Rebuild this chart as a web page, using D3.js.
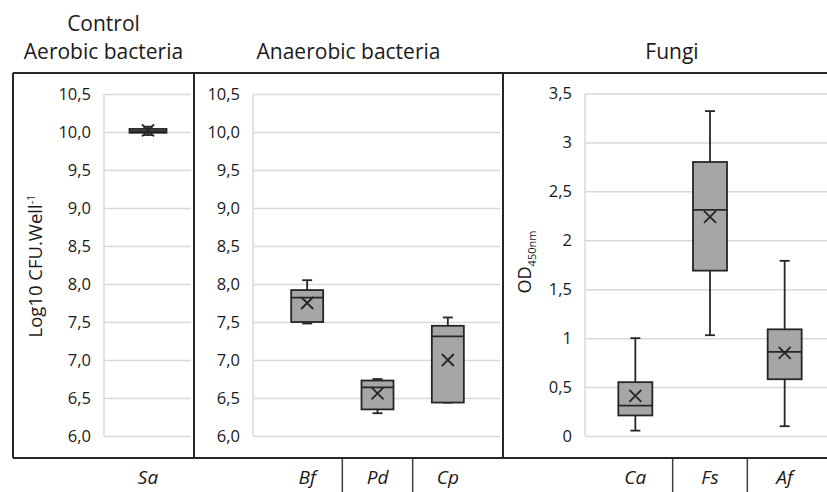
<!DOCTYPE html>
<html>
<head>
<meta charset="utf-8">
<script src="https://cdn.jsdelivr.net/npm/d3@7"></script>
<style>
  body { margin: 0; background: #fff; }
  text { font-family: "Open Sans", sans-serif; fill: #1a1a1a; }
</style>
</head>
<body>
<script>
// Data
var aerobicCategories = ["Sa"];
var aerobicMin    = [9.96];
var aerobicQ1     = [9.99];
var aerobicMedian = [10.01];
var aerobicQ3     = [10.04];
var aerobicMax    = [10.07];
var aerobicMean   = [10.02];

var anaerobicCategories = ["Bf", "Pd", "Cp"];
var anaerobicMin    = [7.48, 6.30, 6.44];
var anaerobicQ1     = [7.50, 6.35, 6.44];
var anaerobicMedian = [7.82, 6.64, 7.31];
var anaerobicQ3     = [7.92, 6.73, 7.45];
var anaerobicMax    = [8.05, 6.75, 7.56];
var anaerobicMean   = [7.75, 6.56, 7.00];

var fungiCategories = ["Ca", "Fs", "Af"];
var fungiMin    = [0.055, 1.03, 0.10];
var fungiQ1     = [0.21, 1.69, 0.58];
var fungiMedian = [0.31, 2.31, 0.86];
var fungiQ3     = [0.55, 2.80, 1.09];
var fungiMax    = [1.00, 3.32, 1.79];
var fungiMean   = [0.41, 2.24, 0.85];

var cfuTicks = [6.0, 6.5, 7.0, 7.5, 8.0, 8.5, 9.0, 9.5, 10.0, 10.5];
var odTicks = [0, 0.5, 1, 1.5, 2, 2.5, 3, 3.5];

var svgWidth = 827;
var svgHeight = 492;

var frameTop = 73;
var frameBottom = 458;
var frameLeft = 13;

var stroke = "#262626";
var boxFill = "#a6a6a6";
var gridColor = "#d9d9d9";

var locale = d3.formatLocale({ decimal: ",", thousands: ".", grouping: [3], currency: ["", ""] });

var svg = d3.select("body")
  .append("svg")
  .attr("width", svgWidth)
  .attr("height", svgHeight);

// y scales (panel 1 and 2 share the CFU scale)
var yCfu = d3.scaleLinear().domain([6, 10.5]).range([436, 94]);
var yOd = d3.scaleLinear().domain([0, 3.5]).range([436, 93.5]);

function makeRows(cats, mn, q1, med, q3, mx, mean) {
  return cats.map(function(c, i) {
    return { cat: c, min: mn[i], q1: q1[i], median: med[i], q3: q3[i], max: mx[i], mean: mean[i] };
  });
}

var panels = [
  {
    titles: ["Control", "Aerobic bacteria"], titleX: 103.5,
    left: frameLeft, right: 194, plotLeft: 104, plotRight: 191,
    band: [112, 184], boxWidth: 37,
    y: yCfu, ticks: cfuTicks, fmt: locale.format(".1f"),
    rows: makeRows(aerobicCategories, aerobicMin, aerobicQ1, aerobicMedian, aerobicQ3, aerobicMax, aerobicMean)
  },
  {
    titles: ["Anaerobic bacteria"], titleX: 348.5,
    left: 194, right: 503, plotLeft: 253, plotRight: 500,
    band: [272, 483], boxWidth: 32,
    y: yCfu, ticks: cfuTicks, fmt: locale.format(".1f"),
    rows: makeRows(anaerobicCategories, anaerobicMin, anaerobicQ1, anaerobicMedian, anaerobicQ3, anaerobicMax, anaerobicMean)
  },
  {
    titles: ["Fungi"], titleX: 672,
    left: 503, right: svgWidth, plotLeft: 585, plotRight: svgWidth,
    band: [598, 822], boxWidth: 34,
    y: yOd, ticks: odTicks, fmt: locale.format(".1~f"),
    rows: makeRows(fungiCategories, fungiMin, fungiQ1, fungiMedian, fungiQ3, fungiMax, fungiMean)
  }
];

panels.forEach(function(p) {
  var g = svg.append("g");
  var x = d3.scaleBand().domain(p.rows.map(function(d) { return d.cat; })).range(p.band);
  var y = p.y;

  // panel title(s)
  p.titles.forEach(function(t, i, arr) {
    g.append("text")
      .attr("x", p.titleX)
      .attr("y", 59 - (arr.length - 1 - i) * 28)
      .attr("text-anchor", "middle")
      .style("font-size", "21px")
      .text(t);
  });

  // gridlines
  var grid = g.append("g")
    .attr("transform", "translate(" + p.plotLeft + ",0)")
    .call(d3.axisLeft(y).tickValues(p.ticks).tickSize(-(p.plotRight - p.plotLeft)).tickFormat(""));
  grid.select(".domain").remove();
  grid.selectAll("line").attr("stroke", gridColor).attr("stroke-width", 1.5);

  g.append("line")
    .attr("x1", p.plotLeft).attr("x2", p.plotLeft)
    .attr("y1", y(p.ticks[0])).attr("y2", y(p.ticks[p.ticks.length - 1]))
    .attr("stroke", gridColor).attr("stroke-width", 1.5);

  // tick labels
  var labels = g.append("g")
    .attr("transform", "translate(" + p.plotLeft + ",0)")
    .call(d3.axisLeft(y).tickValues(p.ticks).tickSize(0).tickPadding(13).tickFormat(p.fmt));
  labels.select(".domain").remove();
  labels.selectAll("text")
    .style("font-family", "'Open Sans', sans-serif")
    .style("font-size", "16.5px")
    .attr("fill", "#1a1a1a");

  // boxes
  var box = g.selectAll(".box")
    .data(p.rows)
    .enter().append("g")
    .attr("class", "box")
    .attr("transform", function(d) { return "translate(" + (x(d.cat) + x.bandwidth() / 2) + ",0)"; });

  var hw = p.boxWidth / 2;
  var cap = 5;
  var sw = 1.8;

  box.append("line")
    .attr("y1", function(d) { return y(d.max); })
    .attr("y2", function(d) { return y(d.q3); })
    .attr("stroke", stroke).attr("stroke-width", sw);
  box.append("line")
    .attr("y1", function(d) { return y(d.q1); })
    .attr("y2", function(d) { return y(d.min); })
    .attr("stroke", stroke).attr("stroke-width", sw);
  box.append("line")
    .attr("x1", -cap).attr("x2", cap)
    .attr("y1", function(d) { return y(d.max); })
    .attr("y2", function(d) { return y(d.max); })
    .attr("stroke", stroke).attr("stroke-width", sw);
  box.append("line")
    .attr("x1", -cap).attr("x2", cap)
    .attr("y1", function(d) { return y(d.min); })
    .attr("y2", function(d) { return y(d.min); })
    .attr("stroke", stroke).attr("stroke-width", sw);

  box.append("rect")
    .attr("x", -hw)
    .attr("width", p.boxWidth)
    .attr("y", function(d) { return y(d.q3); })
    .attr("height", function(d) { return y(d.q1) - y(d.q3); })
    .attr("fill", boxFill)
    .attr("stroke", stroke).attr("stroke-width", sw);

  box.append("line")
    .attr("x1", -hw).attr("x2", hw)
    .attr("y1", function(d) { return y(d.median); })
    .attr("y2", function(d) { return y(d.median); })
    .attr("stroke", stroke).attr("stroke-width", sw);

  // mean marker
  var m = 6;
  box.append("path")
    .attr("d", function(d) {
      var cy = y(d.mean);
      return "M" + (-m) + "," + (cy - m) + "L" + m + "," + (cy + m) +
             "M" + m + "," + (cy - m) + "L" + (-m) + "," + (cy + m);
    })
    .attr("fill", "none")
    .attr("stroke", stroke).attr("stroke-width", sw);

  // category labels under the frame
  g.selectAll(".cat")
    .data(p.rows)
    .enter().append("text")
    .attr("class", "cat")
    .attr("x", function(d) { return x(d.cat) + x.bandwidth() / 2; })
    .attr("y", 484)
    .attr("text-anchor", "middle")
    .style("font-size", "19px")
    .style("font-style", "italic")
    .text(function(d) { return d.cat; });

  // separators between categories
  g.selectAll(".sep")
    .data(p.rows.slice(1))
    .enter().append("line")
    .attr("x1", function(d) { return x(d.cat); })
    .attr("x2", function(d) { return x(d.cat); })
    .attr("y1", frameBottom).attr("y2", svgHeight)
    .attr("stroke", "#404040").attr("stroke-width", 1.5);

  // panel divider
  if (p.left > frameLeft) {
    svg.append("line")
      .attr("x1", p.left).attr("x2", p.left)
      .attr("y1", frameTop).attr("y2", frameBottom)
      .attr("stroke", stroke).attr("stroke-width", 2);
  }
});

// outer frame
svg.append("line")
  .attr("x1", frameLeft).attr("x2", svgWidth)
  .attr("y1", frameTop).attr("y2", frameTop)
  .attr("stroke", stroke).attr("stroke-width", 2);
svg.append("line")
  .attr("x1", frameLeft).attr("x2", svgWidth)
  .attr("y1", frameBottom).attr("y2", frameBottom)
  .attr("stroke", stroke).attr("stroke-width", 2);
svg.append("line")
  .attr("x1", frameLeft).attr("x2", frameLeft)
  .attr("y1", frameTop).attr("y2", frameBottom)
  .attr("stroke", stroke).attr("stroke-width", 2);

// y axis titles
var cfuTitle = svg.append("text")
  .attr("transform", "translate(42,266) rotate(-90)")
  .attr("text-anchor", "middle")
  .style("font-size", "18.5px");
cfuTitle.append("tspan").text("Log10 CFU.Well");
cfuTitle.append("tspan").attr("dy", -7).style("font-size", "11px").text("-1");

var odTitle = svg.append("text")
  .attr("transform", "translate(531,262) rotate(-90)")
  .attr("text-anchor", "middle")
  .style("font-size", "18px");
odTitle.append("tspan").text("OD");
odTitle.append("tspan").attr("dy", 5).style("font-size", "11px").text("450nm");
</script>
</body>
</html>
